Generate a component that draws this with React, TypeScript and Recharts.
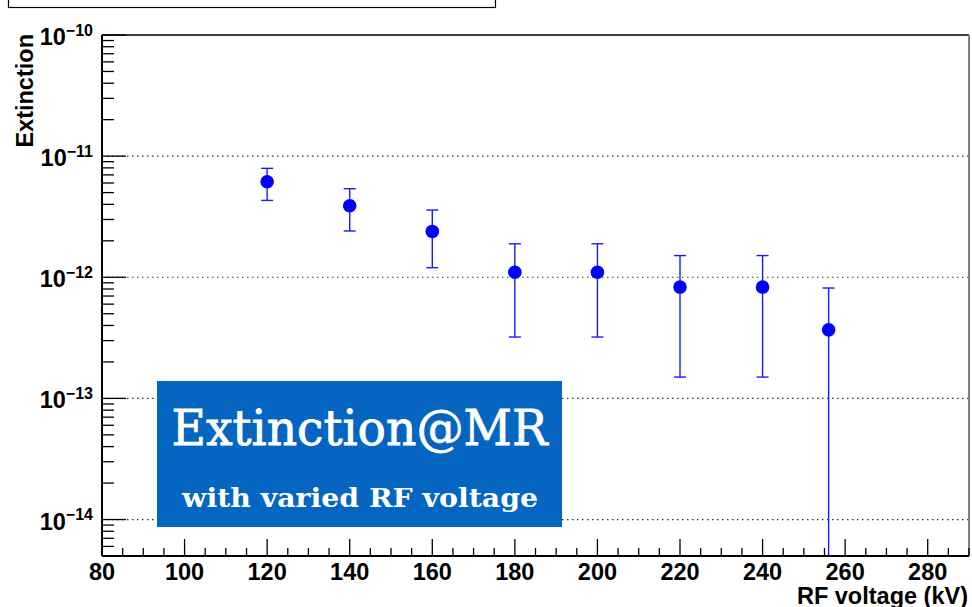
import React from 'react';
import { ScatterChart, Scatter, XAxis, YAxis, ErrorBar, ReferenceLine } from 'recharts';

// RF voltage (kV)
const voltages = [120, 140, 160, 180, 200, 220, 240, 256];
// Extinction central values
const extinction = [6.15e-12, 3.89e-12, 2.39e-12, 1.10e-12, 1.10e-12, 8.3e-13, 8.3e-13, 3.68e-13];
// Upper ends of error bars
const upperBound = [7.93e-12, 5.38e-12, 3.59e-12, 1.89e-12, 1.89e-12, 1.51e-12, 1.51e-12, 8.15e-13];
// Lower ends of error bars (last one runs down to the bottom of the axis)
const lowerBound = [4.31e-12, 2.41e-12, 1.2e-12, 3.21e-13, 3.21e-13, 1.5e-13, 1.5e-13, 5e-15];

const xTicks = [80, 85, 90, 95, 100, 105, 110, 115, 120, 125, 130, 135, 140, 145, 150, 155, 160, 165, 170, 175, 180, 185, 190, 195, 200, 205, 210, 215, 220, 225, 230, 235, 240, 245, 250, 255, 260, 265, 270, 275, 280, 285, 290];
const decades = [-14, -13, -12, -11];
const mantissas = [1, 2, 3, 4, 5, 6, 7, 8, 9];
const yTicks: number[] = [5e-15, 6e-15, 7e-15, 8e-15, 9e-15];
decades.forEach((d) => mantissas.forEach((m) => yTicks.push(m * Math.pow(10, d))));
yTicks.push(1e-10);

const data = voltages.map((v, i) => ({
  v,
  ext: extinction[i],
  err: [extinction[i] - lowerBound[i], upperBound[i] - extinction[i]],
}));

const FONT = '"Liberation Sans", Arial, Helvetica, sans-serif';

const XTick = (props: any) => {
  const { x, y, payload } = props;
  const val = payload.value;
  const major = val % 20 === 0;
  return (
    <g>
      <line x1={x} x2={x} y1={y} y2={y - (major ? 17 : 8)} stroke="#000" strokeWidth={1.3} />
      {major && (
        <text x={x} y={y + 24} textAnchor="middle" fontFamily={FONT} fontWeight="bold" fontSize={23.5} fill="#000">
          {val}
        </text>
      )}
    </g>
  );
};

const YTick = (props: any) => {
  const { x, y, payload } = props;
  const val = payload.value;
  const lg = Math.log10(val);
  const major = Math.abs(lg - Math.round(lg)) < 1e-6;
  return (
    <g>
      <line x1={x} x2={x + (major ? 24 : 12)} y1={y} y2={y} stroke="#000" strokeWidth={1.3} />
      {major && (
        <text x={93} y={y + 10} textAnchor="end" fontFamily={FONT} fontWeight="bold" fontSize={23.5} fill="#000">
          10
          <tspan dy={-9.5} fontSize={16}>{'\u2212' + Math.abs(Math.round(lg))}</tspan>
        </text>
      )}
    </g>
  );
};

const YLabel = () => (
  <text x={33} y={34} transform="rotate(-90, 33, 34)" textAnchor="end" fontFamily={FONT} fontWeight="bold" fontSize={23.5} fill="#000">
    Extinction
  </text>
);

const XLabel = () => (
  <text x={968} y={604} textAnchor="end" fontFamily={FONT} fontWeight="bold" fontSize={23.5} fill="#000">
    RF voltage (kV)
  </text>
);

const Dot = (props: any) => <circle cx={props.cx} cy={props.cy} r={6.8} fill="#0000ff" />;

export default function App() {
  return (
    <div style={{ position: 'absolute', left: 0, top: 0, width: 972, height: 607, background: '#fff', overflow: 'hidden' }}>
      <ScatterChart width={972} height={607} margin={{ top: 35, right: 3, bottom: 0, left: 0 }}>
        <XAxis
          dataKey="v"
          type="number"
          domain={[80, 290]}
          ticks={xTicks}
          interval={0}
          allowDataOverflow
          height={51}
          tickSize={0}
          tickMargin={0}
          tick={<XTick />}
          axisLine={{ stroke: '#000', strokeWidth: 2 }}
          label={<XLabel />}
        />
        <YAxis
          dataKey="ext"
          type="number"
          scale="log"
          domain={[5e-15, 1e-10]}
          ticks={yTicks}
          interval={0}
          allowDataOverflow
          width={102}
          tickSize={0}
          tickMargin={0}
          tick={<YTick />}
          axisLine={{ stroke: '#000', strokeWidth: 2 }}
          label={<YLabel />}
        />
        {decades.map((d) => (
          <ReferenceLine key={d} y={Math.pow(10, d)} stroke="#333" strokeDasharray="1.5 3.5" strokeWidth={1.2} />
        ))}
        <ReferenceLine y={1e-10} stroke="#000" strokeWidth={1.3} />
        <ReferenceLine x={290} stroke="#808080" strokeWidth={2} />
        <Scatter data={data} dataKey="ext" fill="#0000ff" shape={<Dot />} isAnimationActive={false}>
          <ErrorBar dataKey="err" direction="y" width={6} stroke="#1a1aff" strokeWidth={1.4} />
        </Scatter>
      </ScatterChart>
      <svg width={972} height={607} style={{ position: 'absolute', left: 0, top: 0, pointerEvents: 'none' }}>
        <rect x={8.5} y={-20} width={487} height={27.5} fill="#fff" stroke="#000" strokeWidth={1.2} />
        <rect x={157} y={381} width={405} height={146} fill="#0566c1" />
        <text x={359.5} y={445} textAnchor="middle" fontFamily='"DejaVu Serif", "Liberation Serif", serif' fontSize={48} fill="#fff" stroke="#fff" strokeWidth={0.8} textLength={376} lengthAdjust="spacingAndGlyphs">
          Extinction@MR
        </text>
        <text x={360} y={507} textAnchor="middle" fontFamily='"DejaVu Serif", "Liberation Serif", serif' fontWeight="bold" fontSize={26.5} fill="#fff" textLength={356} lengthAdjust="spacingAndGlyphs">
          with varied RF voltage
        </text>
      </svg>
    </div>
  );
}
